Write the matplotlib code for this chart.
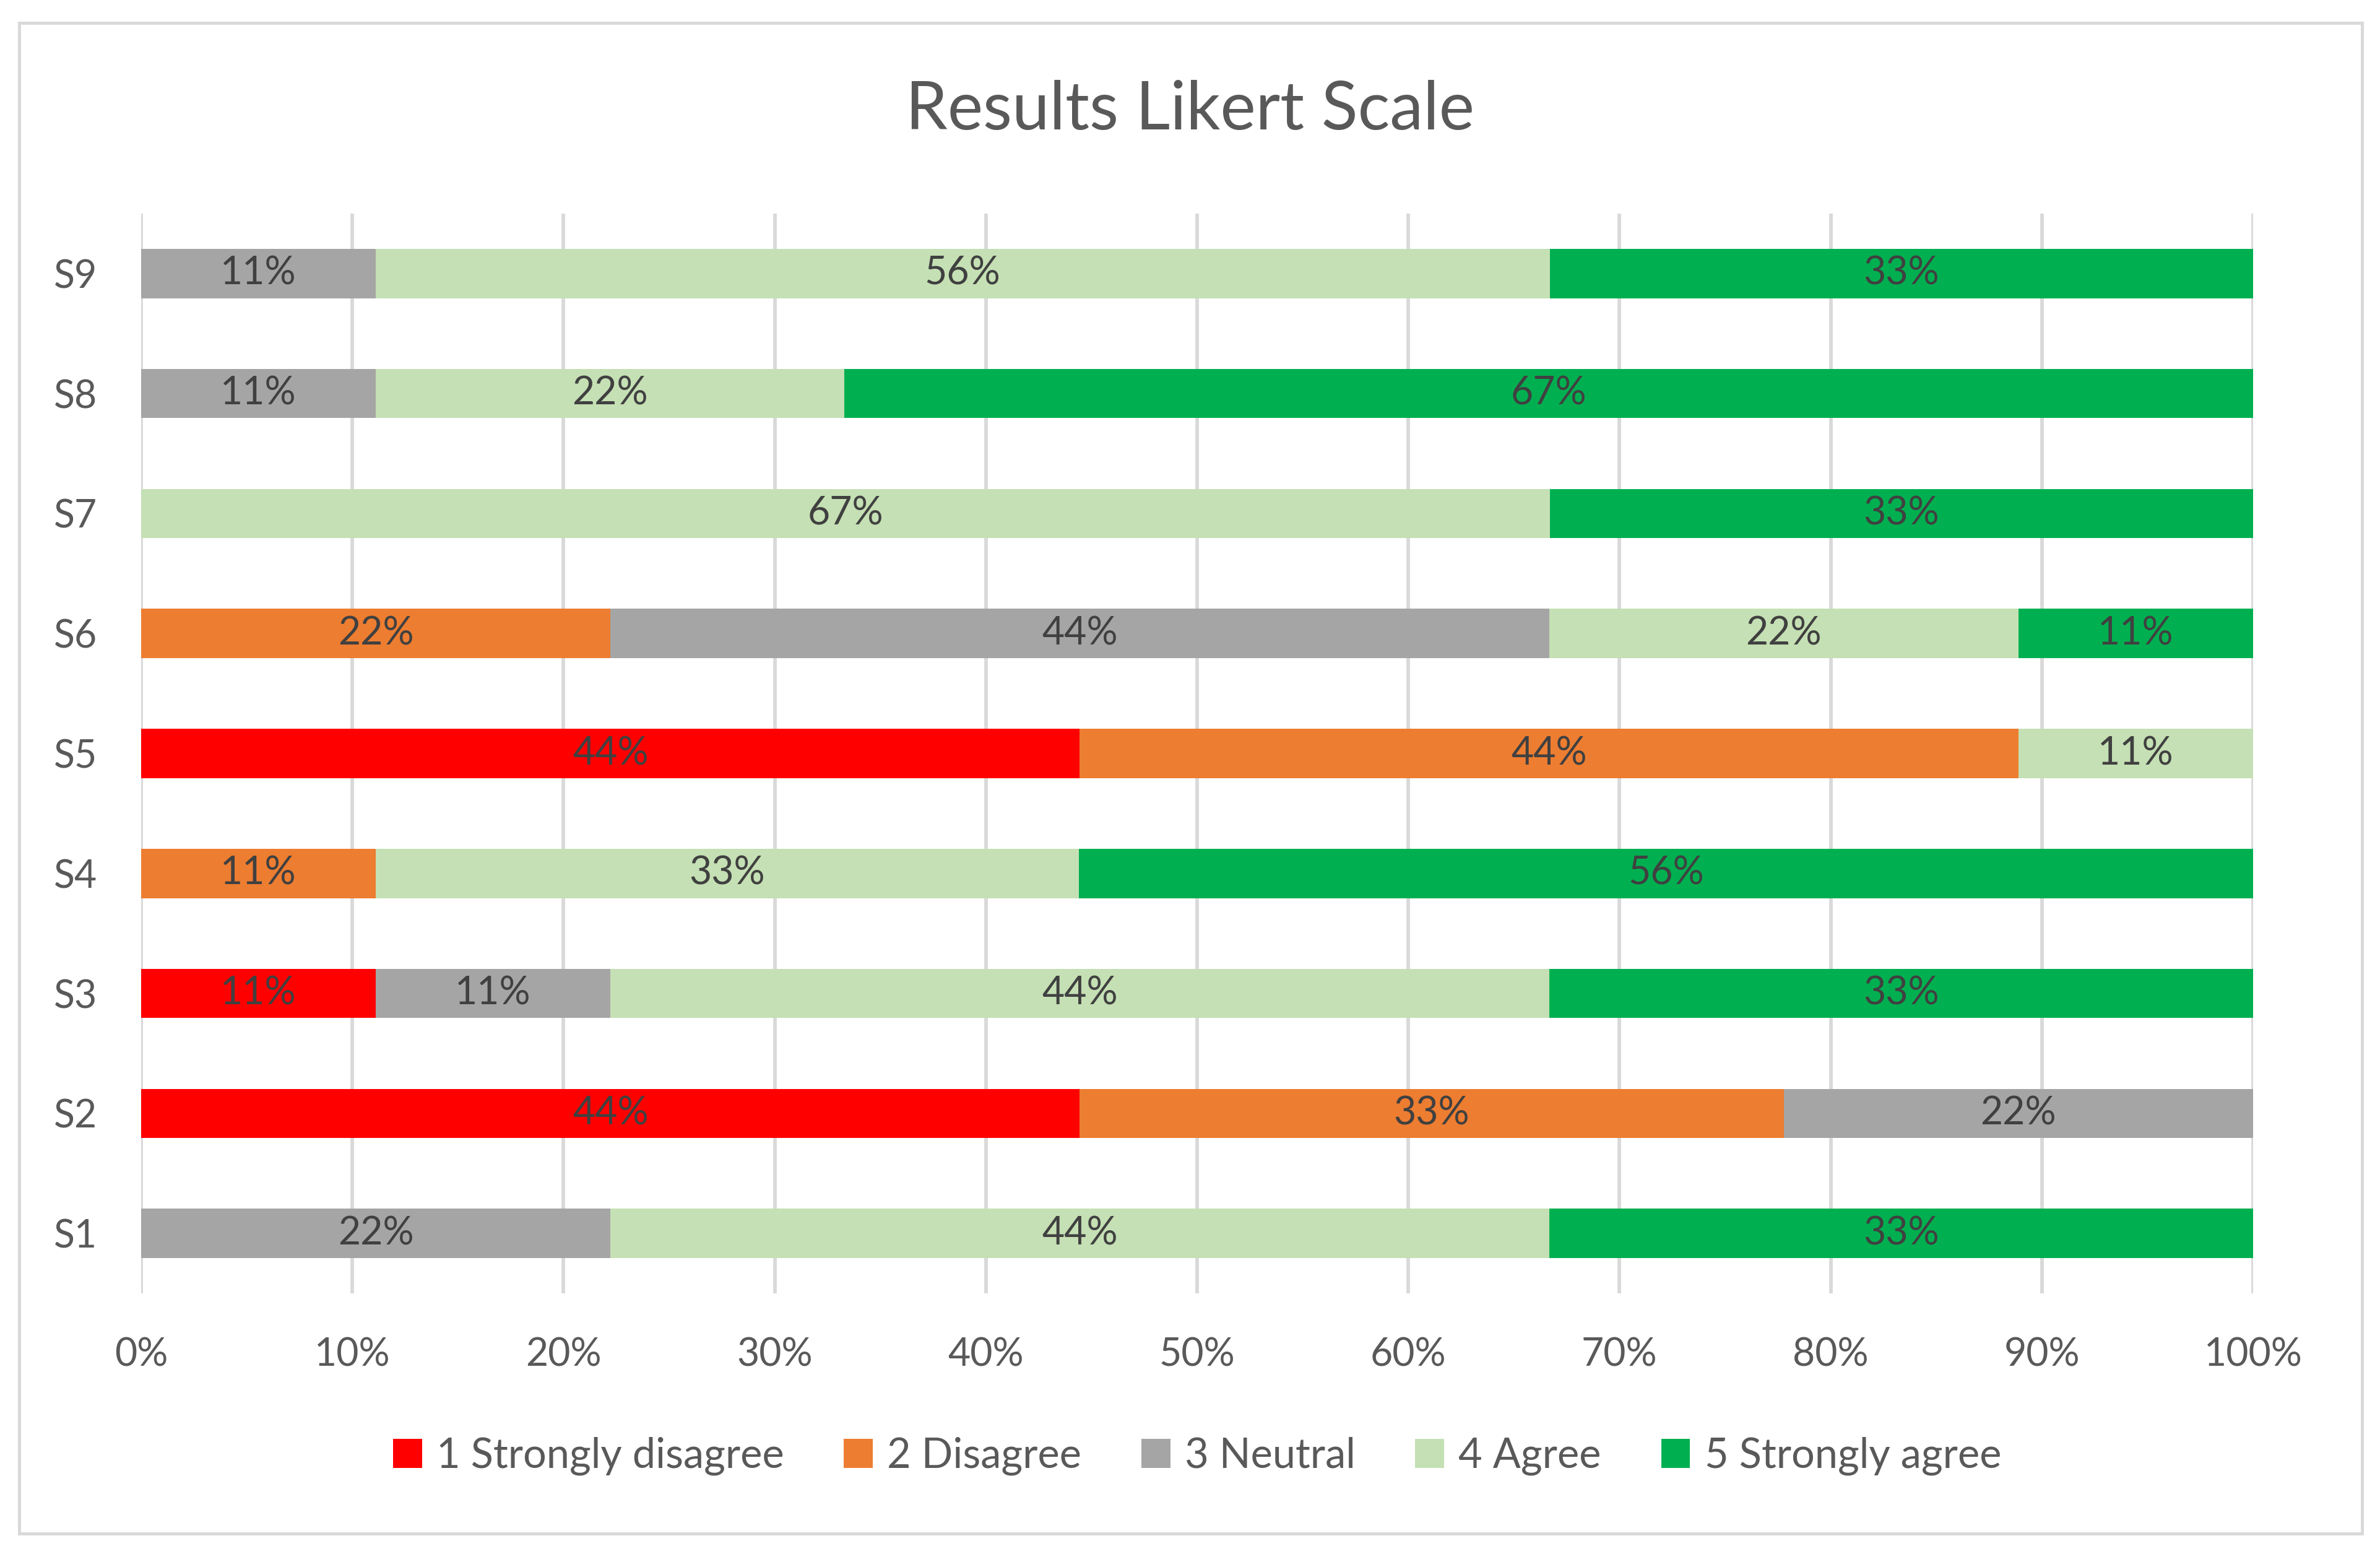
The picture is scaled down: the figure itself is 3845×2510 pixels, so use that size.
import matplotlib
matplotlib.use("Agg")
import matplotlib.pyplot as plt
import matplotlib.patches as mpatches
import numpy as np

plt.rcParams['font.family'] = ['Lato', 'DejaVu Sans']

# ---- data ----
statements = ["S1", "S2", "S3", "S4", "S5", "S6", "S7", "S8", "S9"]
series_names = ["1 Strongly disagree", "2 Disagree", "3 Neutral", "4 Agree", "5 Strongly agree"]
strongly_disagree = [0, 44.4, 11.1, 0, 44.4, 0, 0, 0, 0]
disagree          = [0, 33.3, 0, 11.1, 44.4, 22.2, 0, 0, 0]
neutral           = [22.2, 22.2, 11.1, 0, 0, 44.4, 0, 11.1, 11.1]
agree             = [44.4, 0, 44.4, 33.3, 11.1, 22.2, 66.7, 22.2, 55.6]
strongly_agree    = [33.3, 0, 33.3, 55.6, 0, 11.1, 33.3, 66.7, 33.3]
colors = ["#FF0000", "#ED7D31", "#A5A5A5", "#C5E0B4", "#00B050"]
x_ticks = [0, 10, 20, 30, 40, 50, 60, 70, 80, 90, 100]
x_tick_labels = ["0%", "10%", "20%", "30%", "40%", "50%", "60%", "70%", "80%", "90%", "100%"]
title = "Results Likert Scale"

W, H, DPI = 3845, 2510, 300
fig = plt.figure(figsize=(W / DPI, H / DPI), dpi=DPI)
fig.patch.set_facecolor("white")

left, right = 228 / W, 3640 / W
top, bottom = 1 - 345 / H, 1 - 2089 / H
ax = fig.add_axes([left, bottom, right - left, top - bottom])

series = np.array([strongly_disagree, disagree, neutral, agree, strongly_agree], dtype=float)
totals = series.sum(axis=0)
shares = series / totals * 100.0

y = np.arange(len(statements))
cum = np.zeros(len(statements))
handles = []
for i, name in enumerate(series_names):
    bars = ax.barh(y, shares[i], left=cum, height=0.41, color=colors[i],
                   label=name, zorder=3, linewidth=0)
    handles.append(bars)
    for j, b in enumerate(bars):
        v = series[i][j]
        if v > 0:
            ax.text(cum[j] + shares[i][j] / 2, y[j], f"{round(v)}%",
                    ha="center", va="center", fontsize=15, color="#404040", zorder=4)
    cum += shares[i]

ax.set_xlim(0, 100)
ax.set_ylim(-0.5, len(statements) - 0.5)
ax.set_xticks(x_ticks)
ax.set_xticklabels(x_tick_labels)
ax.set_yticks(y)
ax.set_yticklabels(statements)
ax.tick_params(axis="both", length=0, labelsize=15, labelcolor="#595959")
ax.tick_params(axis="x", pad=17)
ax.tick_params(axis="y", pad=17)
ax.grid(axis="x", color="#D9D9D9", linewidth=1.4, zorder=0)
ax.grid(axis="y", visible=False)
ax.set_axisbelow(True)
for s in ax.spines.values():
    s.set_visible(False)

fig.text((left + right) / 2 - 0.003, 1 - 178 / H, title, ha="center", va="center",
         fontsize=26, color="#595959")

leg = fig.legend(handles=handles, labels=series_names, loc="center",
                 bbox_to_anchor=((left + right) / 2, 1 - 2352 / H), ncol=5,
                 frameon=False, fontsize=16, labelcolor="#595959",
                 handlelength=0.7, handleheight=0.7, handletextpad=0.35,
                 columnspacing=1.45)

border = mpatches.Rectangle((31 / W, 1 - 2477 / H), (3816 - 31) / W, (2477 - 37) / H,
                            transform=fig.transFigure, fill=False,
                            edgecolor="#D9D9D9", linewidth=1.2)
fig.patches.append(border)

fig.savefig("out.png", dpi=DPI)
